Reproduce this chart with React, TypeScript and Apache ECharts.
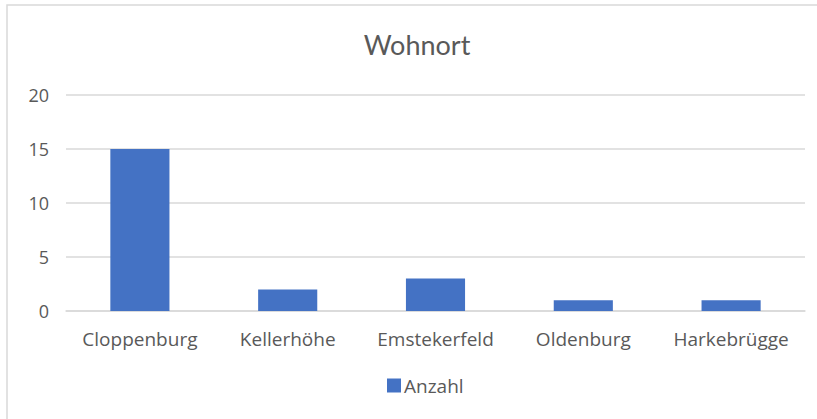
import React, { useEffect, useRef } from "react";
import * as echarts from "echarts";

const categories = ["Cloppenburg", "Kellerhöhe", "Emstekerfeld", "Oldenburg", "Harkebrügge"];
const anzahl = [15, 2, 3, 1, 1];
const seriesName = "Anzahl";
const titleText = "Wohnort";

export default function App() {
  const ref = useRef<HTMLDivElement>(null);
  useEffect(() => {
    const chart = echarts.init(ref.current!, null, { renderer: "svg" });
    const font = "'Open Sans', sans-serif";
    chart.setOption({
      animation: false,
      backgroundColor: "#ffffff",
      graphic: [
        {
          type: "rect",
          shape: { x: 7, y: 5, width: 840, height: 440 },
          style: { fill: "none", stroke: "#d9d9d9", lineWidth: 1.5 },
          silent: true,
        },
      ],
      title: {
        text: titleText,
        left: 412,
        textAlign: "center",
        top: 26,
        textStyle: { fontFamily: "Lato, sans-serif", fontSize: 27, fontWeight: "normal", color: "#595959" },
      },
      legend: {
        data: [seriesName],
        bottom: 19,
        left: 382,
        icon: "rect",
        itemWidth: 14,
        itemHeight: 14,
        itemGap: 6,
        textStyle: { fontFamily: font, fontSize: 19, color: "#595959", padding: [0, 0, 0, -2] },
      },
      grid: { left: 66, right: 12, top: 95, bottom: 108 },
      xAxis: {
        type: "category",
        data: categories,
        axisLine: { lineStyle: { color: "#d9d9d9", width: 1.5 } },
        axisTick: { show: false },
        axisLabel: { fontFamily: font, fontSize: 19, color: "#595959", margin: 18, interval: 0, hideOverlap: false },
      },
      yAxis: {
        type: "value",
        min: 0,
        max: 20,
        interval: 5,
        axisLine: { show: false },
        axisTick: { show: false },
        splitLine: { lineStyle: { color: "#d9d9d9", width: 1.5 } },
        axisLabel: { fontFamily: font, fontSize: 18, color: "#595959", margin: 17 },
      },
      series: [
        {
          name: seriesName,
          type: "bar",
          data: anzahl,
          barWidth: "40%",
          itemStyle: { color: "#4472C4" },
        },
      ],
    });
    return () => chart.dispose();
  }, []);
  return <div ref={ref} style={{ position: "absolute", left: 0, top: 0, width: 817, height: 419 }} />;
}
